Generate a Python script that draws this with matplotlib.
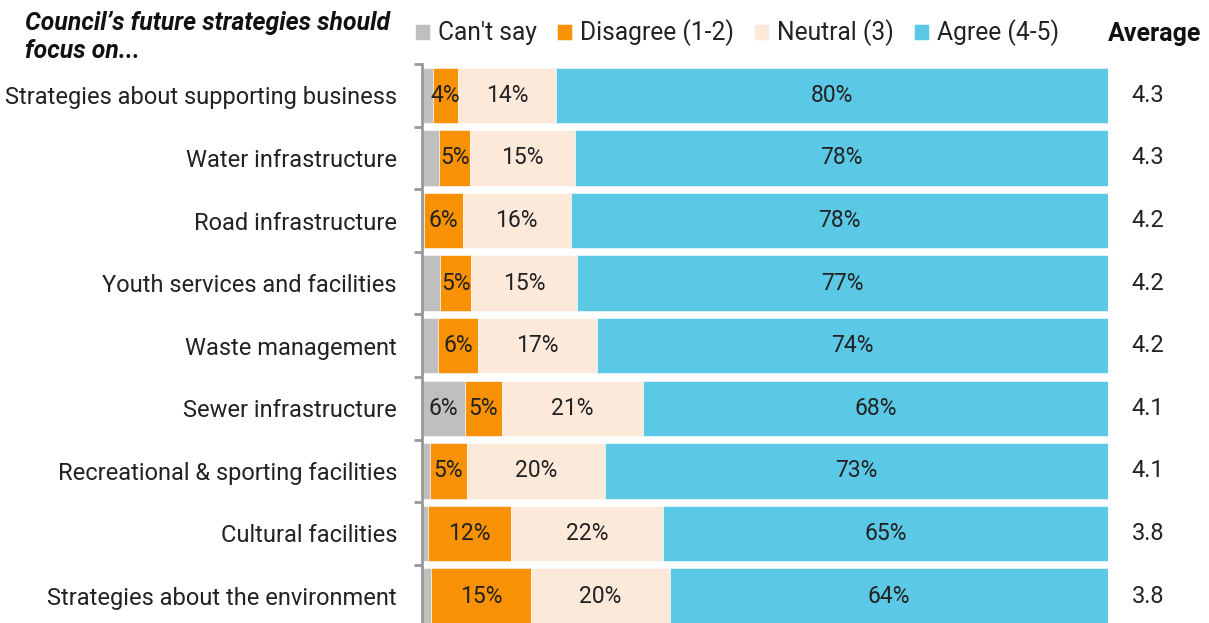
import matplotlib
matplotlib.use("Agg")
import matplotlib.pyplot as plt
from matplotlib.transforms import blended_transform_factory
import numpy as np

categories = [
    "Strategies about supporting business",
    "Water infrastructure",
    "Road infrastructure",
    "Youth services and facilities",
    "Waste management",
    "Sewer infrastructure",
    "Recreational & sporting facilities",
    "Cultural facilities",
    "Strategies about the environment",
]
cant_say = [1.6, 2.5, 0.25, 2.6, 2.3, 6.2, 1.2, 0.9, 1.3]
disagree = [3.65, 4.55, 5.7, 4.6, 5.9, 5.4, 5.3, 12.1, 14.6]
neutral = [14.3, 15.2, 15.7, 15.4, 17.3, 20.6, 20.2, 22.1, 20.2]
agree = [80.4, 77.8, 78.3, 77.4, 74.5, 67.8, 73.3, 64.9, 63.9]
averages = ["4.3", "4.3", "4.2", "4.2", "4.2", "4.1", "4.1", "3.8", "3.8"]

series_names = ["Can't say", "Disagree (1-2)", "Neutral (3)", "Agree (4-5)"]
series_values = [cant_say, disagree, neutral, agree]
colors = ["#BFBFBF", "#F99104", "#FDE9DA", "#5BC8E6"]

plt.rcParams['font.family'] = ['Roboto', 'DejaVu Sans']
FS = 16
TXT = "#222222"

W, H = 1209, 623
fig = plt.figure(figsize=(W / 100, H / 100), dpi=100)
left_px, right_px, top_px, bottom_px = 422, 1108, 64, 627.4
ax = fig.add_axes([left_px / W, 1 - bottom_px / H,
                   (right_px - left_px) / W, (bottom_px - top_px) / H])

n = len(categories)
y = np.arange(n)
lefts = np.zeros(n)
containers = []
for name, vals, col in zip(series_names, series_values, colors):
    vals = np.array(vals)
    c = ax.barh(y, vals, left=lefts, height=0.885, color=col, label=name,
                edgecolor="white", linewidth=0.4)
    labels = [f"{round(v)}%" if v >= 3 else "" for v in vals]
    ax.bar_label(c, labels=labels, label_type="center", fontsize=FS + 0.5, color=TXT)
    lefts += vals
    containers.append(c)

ax.set_xlim(0, 100)
ax.set_ylim(n - 0.5, -0.5)
ax.set_xticks([])
ax.set_yticks(y)
ax.set_yticklabels(categories, fontsize=FS + 1, color=TXT)
ax.tick_params(axis="y", which="major", length=0, pad=18)
ax.set_yticks(np.arange(-0.5, n, 1.0), minor=True)
ax.tick_params(axis="y", which="minor", length=6, width=2, color="#999999")
for s in ["top", "right", "bottom"]:
    ax.spines[s].set_visible(False)
ax.spines["left"].set_color("#999999")
ax.spines["left"].set_linewidth(2)

# averages column
tr = blended_transform_factory(fig.transFigure, ax.transData)
for yi, a in zip(y, averages):
    ax.text(1148 / W, yi, a, transform=tr, ha="center", va="center",
            fontsize=FS + 1, color=TXT)

fig.text(1155 / W, 1 - 34 / H, "Average", ha="center", va="center",
         fontsize=FS + 2, fontweight="bold", color="#111111")

fig.text(25 / W, 1 - 37 / H, "Council\u2019s future strategies should\nfocus on...",
         ha="left", va="center", fontsize=FS + 1.8, fontweight="bold", style="italic",
         color="#111111", linespacing=1.25)

fig.legend(handles=containers, labels=series_names, loc="center left",
           bbox_to_anchor=(415 / W, 1 - 33 / H), ncol=4, frameon=False,
           handlelength=0.62, handleheight=0.62, handletextpad=0.33,
           columnspacing=0.8, borderpad=0, borderaxespad=0,
           labelcolor=TXT, prop={"size": FS + 1.7})

fig.savefig("out.png", dpi=100)
